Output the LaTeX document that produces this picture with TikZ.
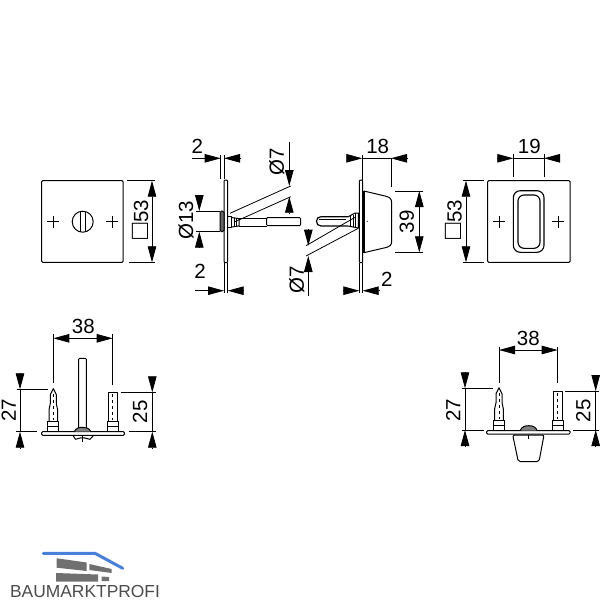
\documentclass[tikz,border=0pt]{standalone}
\usepackage{fontspec}
\setmainfont{Liberation Sans}
\usetikzlibrary{arrows.meta}
\newcommand{\sqmark}{{\fontsize{27}{20}\selectfont □}}
\tikzset{
  part/.style={line width=1pt,line join=round},
  thin part/.style={line width=0.7pt},
  extline/.style={line width=0.8pt},
  dimline/.style={line width=0.8pt,{Triangle[length=16pt,width=8.5pt]}-{Triangle[length=16pt,width=8.5pt]}},
  tipline/.style={line width=0.8pt,-{Triangle[length=16pt,width=8.5pt]}},
  dimtext/.style={inner sep=0pt,font=\fontsize{20.5}{22}\selectfont},
}
\begin{document}
\begin{tikzpicture}[x=1pt,y=-1pt]
  \useasboundingbox (0,0) rectangle (600,600);
  % front plates
  \draw [part,rounded corners=1pt] (41.7,180.7) rectangle (123,262.3);
  \draw [part,rounded corners=1pt] (487.7,180.7) rectangle (570,262.3);
  \foreach \x in {53.3,112.3,499,558}
    \draw [thin part,line width=0.9pt] (\x-6,221.5) -- (\x+6,221.5) (\x,215.5) -- (\x,227.5);
  \draw [part] (82.7,221.7) circle (10.5);
  \draw [part] (80,211.5) -- (80,232) (85.3,211.5) -- (85.3,232);
  % pull
  \draw [part,line width=1.1pt,rounded corners=7pt] (513.3,190.7) rectangle (544,252.3);
  \draw [part,line width=1.1pt,rounded corners=6pt] (518,195) rectangle (540,248.3);
  % side view, left part
  \draw [part,rounded corners=1pt] (224,180) rectangle (227.7,262.7);
  \draw [part,rounded corners=1.5pt,fill=black!60] (220,211) rectangle (224,231.7);
  \draw [part] (227.7,216) rectangle (231.7,227);
  \draw [part] (231.7,217.5) -- (239,218.7) -- (239,226) -- (231.7,227);
  \draw [thin part] (234,217.8) -- (234,226.8) (236.5,218.2) -- (236.5,226.4);
  \draw [part,line width=1.4pt] (239,218.7) -- (266.7,218.7);
  \draw [part] (239,226.5) -- (266.7,226.5);
  \draw [part,rounded corners=1pt] (266.7,217.5) -- (300.5,217.5) -- (300.5,225.7) -- (266.7,225.7) -- cycle;
  % side view, right part
  \draw [part,rounded corners=1pt] (359.3,180) rectangle (362.7,262.7);
  \draw [part] (363.8,191) -- (385,196) .. controls (389,197) and (391.7,198) .. (391.7,203)
    -- (391.7,241) .. controls (391.7,245) and (390,246.5) .. (387,247.3) -- (363.8,252.7);
  \draw [part,line width=1.4pt] (364,191) -- (364,252.7);
  \fill (367.3,221.3) circle (0.6);
  \draw [part,rounded corners=2pt,line width=1.2pt] (348.3,216.7) -- (319,216.7) -- (316.5,219) -- (316.5,223.5) -- (319,226) -- (348.3,226);
  \draw [part,line width=1.2pt] (319,219.5) -- (346,219.5);
  \draw [part] (348.3,216.7) -- (355,213) -- (358.3,213) -- (358.3,228) -- (348.3,226);
  \draw [thin part] (350,216) -- (350,226) (353,214.5) -- (353,226.7) (355.5,213) -- (355.5,227.5);
  % bottom views
  \draw [part,rounded corners=1pt] (41.7,431.7) rectangle (124.3,435.3);
  \draw [part,rounded corners=1pt] (486.7,430.7) rectangle (570,434);
  \foreach \x/\y in {53.3/431.7,499/430.7} {
    \begin{scope}[shift={(\x,\y)}]
      \draw [part] (-5.5,0) -- (-5.5,-10) -- (5.5,-10) -- (5.5,0);
      \draw [thin part] (-5.5,-5) -- (5.5,-5);
      \draw [part] (-4.3,-10) -- (-4.3,-22) -- (-3,-28) -- (-3,-37) -- (0,-43) -- (3,-37) -- (3,-28) -- (4.3,-22) -- (4.3,-10);
      \draw [thin part,dashed] (0,-38) -- (0,-12);
    \end{scope}
  }
  \foreach \x/\y in {112.7/431.7,557.7/430.7} {
    \begin{scope}[shift={(\x,\y)}]
      \draw [part] (-5.5,0) -- (-5.5,-10) -- (5.5,-10) -- (5.5,0);
      \draw [thin part] (-5.5,-5) -- (5.5,-5);
      \draw [part] (-4.5,-10) -- (-4.5,-39.5) -- (4.5,-39.5) -- (4.5,-10);
      \draw [thin part,dashed] (0,-38) -- (0,-12);
    \end{scope}
  }
  \draw [part,rounded corners=1pt] (78.7,428.3) -- (78.7,358.3) -- (86.3,358.3) -- (86.3,428.3);
  \draw [part,fill=black!50] (74.3,431.7) .. controls (76,428) and (79,427.3) .. (82.5,427.3) .. controls (86,427.3) and (89,428) .. (91,431.7);
  \draw [part] (73.3,436) -- (75.5,439.3) -- (81,437.8) -- (84,437.8) -- (90,439.3) -- (93,436);
  \draw [thin part] (82.5,436) -- (82.5,441.5);
  \draw [part,fill=black!50] (520,430.7) .. controls (522,426.5) and (525,425.7) .. (528.7,425.7) .. controls (532.5,425.7) and (535.5,426.5) .. (537.3,430.7);
  \draw [part,rounded corners=2pt] (512.7,435) -- (544,435) -- (539,461.7) -- (518.3,461.7) -- cycle;
  \draw [thin part] (528.3,435) -- (528.3,439);
  % dimensions of the plates
  \draw [extline] (127.3,180.7) -- (155,180.7) (129,262.3) -- (155,262.3);
  \draw [dimline] (152,180.7) -- (152,262.3);
  \node (sqleft) [dimtext,rotate=90,anchor=base] at (148,219.5) {\sqmark53};
  \draw [extline] (462.7,180.7) -- (484,180.7) (462.7,262.3) -- (484,262.3);
  \draw [dimline] (466,180.7) -- (466,262.3);
  \node (sqright) [dimtext,rotate=90,anchor=base] at (461.7,219.5) {\sqmark53};
  \draw [extline] (513.3,154) -- (513.3,177.3) (544,154) -- (544,177.3);
  \draw [extline] (513.3,158.3) -- (544,158.3);
  \draw [tipline] (497.3,158.3) -- (513.3,158.3);
  \draw [tipline] (559.3,158.3) -- (544,158.3);
  \node (wpull) [dimtext] at (529.3,146) {19};
  % dimensions of the left part
  \draw [extline] (220.7,155) -- (220.7,178.7) (224,155) -- (224,178.7);
  \draw [tipline] (191.7,158.3) -- (220.7,158.3);
  \draw [tipline] (240,158.3) -- (224,158.3);
  \node (ttop) [dimtext] at (197.3,146.5) {2};
  \draw [extline] (224,263) -- (224,293) (227.7,263) -- (227.7,293);
  \draw [tipline] (195,290.7) -- (224,290.7);
  \draw [tipline] (243.3,290.7) -- (227.7,290.7);
  \node (tbot) [dimtext] at (200,271.5) {2};
  \draw [extline] (196,211) -- (220,211) (196,231.7) -- (220,231.7);
  \draw [tipline] (199.3,195.7) -- (199.3,211);
  \draw [tipline] (199.3,246.7) -- (199.3,231.7);
  \node (dhub) [dimtext,rotate=90] at (186,220) {Ø13};
  \draw [extline] (230,213.3) -- (290.7,186) (235,221.7) -- (290.7,196.7);
  \draw [tipline] (289.3,141.7) -- (289.3,186);
  \draw [tipline] (289.3,213.3) -- (289.3,196.7);
  \node (dpina) [dimtext,rotate=90] at (276.7,161.7) {Ø7};
  % dimensions of the right part
  \draw [extline] (355,217.3) -- (306,245.7) (358.3,228.3) -- (306,256);
  \draw [tipline] (308.3,229) -- (308.3,245.7);
  \draw [tipline] (308.3,296) -- (308.3,256);
  \node (dpinb) [dimtext,rotate=90] at (296.7,280) {Ø7};
  \draw [extline] (362.3,155) -- (362.3,180) (391,158.3) -- (391,187.3);
  \draw [extline] (362.3,158.3) -- (391,158.3);
  \draw [tipline] (346.7,158.3) -- (362.3,158.3);
  \draw [tipline] (407.3,158.3) -- (391,158.3);
  \node (wknob) [dimtext] at (377.7,146.5) {18};
  \draw [extline] (395,191) -- (422.7,191) (395,252.3) -- (422.7,252.3);
  \draw [dimline] (419.3,191) -- (419.3,252.3);
  \node (hknob) [dimtext,rotate=90] at (406.7,221.7) {39};
  \draw [extline] (359.3,263) -- (359.3,293) (362.7,263) -- (362.7,293);
  \draw [tipline] (343.3,290.7) -- (359.3,290.7);
  \draw [tipline] (380,290.7) -- (362.7,290.7);
  \node (tknob) [dimtext] at (386.7,279) {2};
  % dimensions of the bottom views
  \draw [extline] (53.3,334) -- (53.3,383.3) (112.7,334) -- (112.7,385);
  \draw [dimline] (53.3,338.3) -- (112.7,338.3);
  \node (pitcha) [dimtext] at (83.3,326) {38};
  \draw [extline] (16.7,389.3) -- (48.3,389.3) (16,431.7) -- (37.3,431.7);
  \draw [tipline] (20,373.3) -- (20,389.3);
  \draw [tipline] (20,448.3) -- (20,431.7);
  \draw [extline] (20,389.3) -- (20,431.7);
  \node (lena) [dimtext,rotate=90] at (8.8,410) {27};
  \draw [extline] (121,392.3) -- (156,392.3) (129,431.7) -- (156,431.7);
  \draw [tipline] (152.3,376.7) -- (152.3,392.3);
  \draw [tipline] (152.3,448.3) -- (152.3,431.7);
  \draw [extline] (152.3,392.3) -- (152.3,431.7);
  \node (lenb) [dimtext,rotate=90] at (140,411.7) {25};
  \draw [extline] (499,346.7) -- (499,383.3) (557.7,347) -- (557.7,383.3);
  \draw [dimline] (499,350) -- (557.7,350);
  \node (pitchb) [dimtext] at (528.3,338.3) {38};
  \draw [extline] (461.7,388.3) -- (493.3,388.3) (461.7,430) -- (484,430);
  \draw [tipline] (465,372.3) -- (465,388.3);
  \draw [tipline] (465,446.7) -- (465,430);
  \draw [extline] (465,388.3) -- (465,430);
  \node (lenc) [dimtext,rotate=90] at (453.3,410) {27};
  \draw [extline] (565,391) -- (599.3,391) (573.3,430) -- (599.3,430);
  \draw [tipline] (595.7,375.7) -- (595.7,391);
  \draw [tipline] (595.7,446.7) -- (595.7,430);
  \draw [extline] (595.7,391) -- (595.7,430);
  \node (lend) [dimtext,rotate=90] at (583.3,410.7) {25};
  % logo
  \definecolor{logoblue}{HTML}{4A80D8}
  \definecolor{logogray}{HTML}{707070}
  \draw [logoblue,line width=3pt,line cap=round,line join=round] (43.3,553.3) -- (95,553.3) -- (122.7,568.3);
  \fill [logogray] (56.7,558.3) -- (86.7,562.5) -- (86.7,571) -- (56.7,567.7) -- cycle;
  \fill [logogray] (89.3,564) -- (111.7,569) -- (111.7,573) -- (89.3,570) -- cycle;
  \fill [logogray] (56,573) -- (98,574.5) -- (98,581.7) -- (56,581.7) -- cycle;
  \fill [logogray] (101.7,576.5) -- (109,577) -- (109,581) -- (101.7,581) -- cycle;
  \node (logotext) [inner sep=0pt,anchor=base,text=black!70,font=\fontsize{17.4}{18}\selectfont] at (85,597) {BAUMARKTPROFI};
\end{tikzpicture}
\end{document}
